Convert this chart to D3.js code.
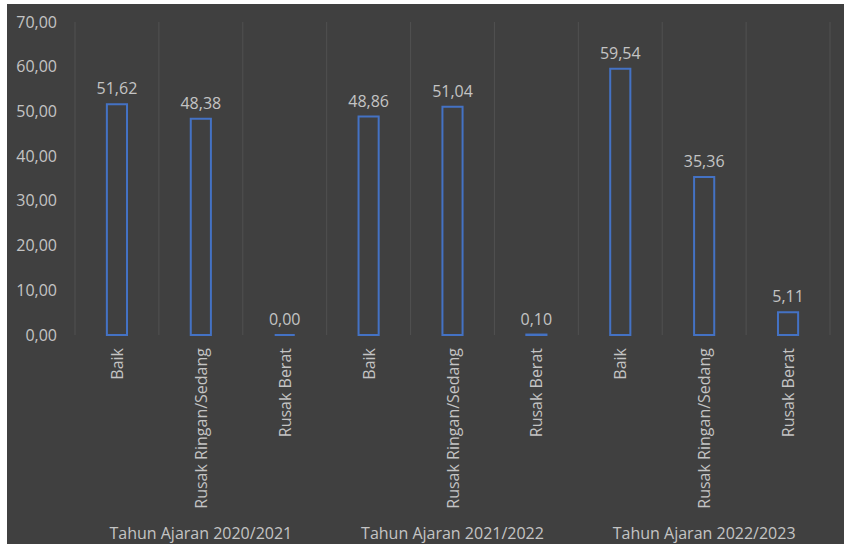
<!DOCTYPE html>
<html>
<head>
<meta charset="utf-8">
<script src="https://cdn.jsdelivr.net/npm/d3@7"></script>
<style>
  body { margin: 0; background: #fff; }
  svg { display: block; }
  text { font-family: "Open Sans", sans-serif; }
</style>
</head>
<body>
<svg id="svg" width="848" height="549"></svg>
<script>
"use strict";

// data
const groups = ["Tahun Ajaran 2020/2021", "Tahun Ajaran 2021/2022", "Tahun Ajaran 2022/2023"];
const conditions = ["Baik", "Rusak Ringan/Sedang", "Rusak Berat"];
const values2020 = [51.62, 48.38, 0.00];
const values2021 = [48.86, 51.04, 0.10];
const values2022 = [59.54, 35.36, 5.11];
const yTicks = [0, 10, 20, 30, 40, 50, 60, 70];

const textColor = "#c4c4c4";
const barColor = "#4472c4";
const fontSize = "16px";

var svg = d3.select("svg");

var rows = [];
[values2020, values2021, values2022].forEach(function(vals, gi) {
    vals.forEach(function(v, ci) {
        rows.push({ id: gi + "-" + ci, group: groups[gi], cond: conditions[ci], value: v });
    });
});

var plot = { left: 75, right: 830, top: 22, bottom: 335 };

var x = d3.scaleBand()
    .domain(rows.map(d => d.id))
    .range([plot.left, plot.right])
    .paddingInner(0.76)
    .paddingOuter(0.38);

var xGroup = d3.scaleBand()
    .domain(groups)
    .range([plot.left, plot.right]);

var y = d3.scaleLinear()
    .domain([0, 70])
    .range([plot.bottom, plot.top]);

var locale = d3.formatLocale({ decimal: ",", thousands: ".", grouping: [3], currency: ["", ""] });
var fmt = locale.format(".2f");

// panel background
svg.append("rect")
    .attr("x", 7)
    .attr("y", 4)
    .attr("width", 837)
    .attr("height", 540)
    .attr("fill", "#404040");

// vertical gridlines between categories
var step = (plot.right - plot.left) / rows.length;
var gridX = d3.range(rows.length + 1).map(i => plot.left + i * step);
svg.append("g")
    .selectAll("line")
    .data(gridX)
    .enter()
    .append("line")
        .attr("x1", d => d)
        .attr("x2", d => d)
        .attr("y1", plot.top)
        .attr("y2", plot.bottom)
        .attr("stroke", "#505050")
        .attr("stroke-width", 1);

// y axis
var yAxis = svg.append("g")
    .attr("transform", "translate(" + (plot.left - 18) + ",0)")
    .call(d3.axisLeft(y).tickValues(yTicks).tickSize(0).tickPadding(0).tickFormat(fmt));
yAxis.select(".domain").remove();
yAxis.selectAll("text")
    .attr("fill", textColor)
    .style("font-size", fontSize);

// bars drawn as outlines so zero values still show a line
svg.append("g")
    .selectAll("path")
    .data(rows)
    .enter()
    .append("path")
        .attr("d", function(d) {
            var x0 = x(d.id), x1 = x0 + x.bandwidth();
            var y0 = y(0), y1 = y(d.value);
            return "M" + x0 + "," + y0 + "V" + y1 + "H" + x1 + "V" + y0 + "Z";
        })
        .attr("fill", "none")
        .attr("stroke", barColor)
        .attr("stroke-width", 2);

// value labels
svg.append("g")
    .selectAll("text")
    .data(rows)
    .enter()
    .append("text")
        .attr("x", d => x(d.id) + x.bandwidth() / 2)
        .attr("y", d => y(d.value) - 10)
        .attr("text-anchor", "middle")
        .attr("fill", textColor)
        .style("font-size", fontSize)
        .text(d => fmt(d.value));

// rotated category labels
svg.append("g")
    .selectAll("text")
    .data(rows)
    .enter()
    .append("text")
        .attr("transform", d => "translate(" + (x(d.id) + x.bandwidth() / 2 + 6) + "," + (plot.bottom + 13) + ") rotate(-90)")
        .attr("text-anchor", "end")
        .attr("fill", textColor)
        .style("font-size", fontSize)
        .text(d => d.cond);

// group labels
svg.append("g")
    .selectAll("text")
    .data(groups)
    .enter()
    .append("text")
        .attr("x", d => xGroup(d) + xGroup.bandwidth() / 2)
        .attr("y", 539)
        .attr("text-anchor", "middle")
        .attr("fill", textColor)
        .style("font-size", fontSize)
        .text(d => d);
</script>
</body>
</html>
